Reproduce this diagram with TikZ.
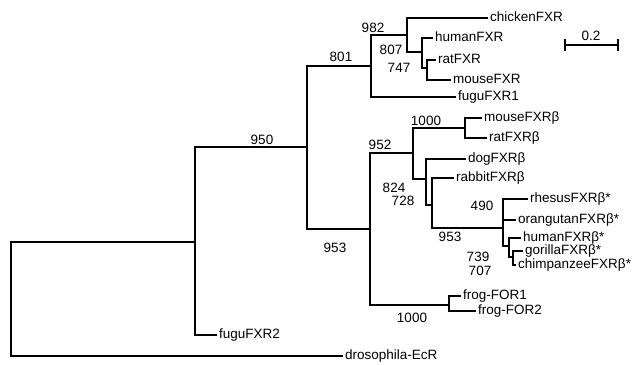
\documentclass[tikz,border=0pt]{standalone}
\usepackage{fontspec}
\setmainfont{Liberation Sans}
\begin{document}
\begin{tikzpicture}[x=1pt,y=-1pt,
  br/.style={line width=1.1pt, line cap=rect},
  lbl/.style={font=\fontsize{13.5}{16}\selectfont},
  leaf/.style={lbl, anchor=west, inner xsep=3pt, inner ysep=0pt, text height=0.72em, text depth=0pt},
  boot/.style={lbl, inner sep=0pt}]
\useasboundingbox[fill=white] (0,0) rectangle (639,364);
% internal nodes
\coordinate (R) at (11,242);
\coordinate (N1) at (195,242);
\coordinate (N2) at (307,147);
\coordinate (N3) at (371,66);
\coordinate (N4) at (407,35);
\coordinate (N5) at (422,52);
\coordinate (N5b) at (427,68);
\coordinate (N6) at (370,229);
\coordinate (N7) at (413,153);
\coordinate (N8) at (465,128);
\coordinate (NG) at (426,179);
\coordinate (NH) at (432,205);
\coordinate (NI) at (503,228);
\coordinate (NK) at (509,246);
\coordinate (NL) at (513,257);
\coordinate (NF) at (449,305);
% leaves
\node[leaf] (chicken) at (487,18) {chickenFXR};
\node[leaf] (hFXR) at (432,38) {humanFXR};
\node[leaf] (rFXR) at (435,60) {ratFXR};
\node[leaf] (mFXR) at (450,80) {mouseFXR};
\node[leaf] (fugu1) at (455,97) {fuguFXR1};
\node[leaf] (mB) at (481,118) {mouseFXRβ};
\node[leaf] (rB) at (486,138) {ratFXRβ};
\node[leaf] (dog) at (465,159) {dogFXRβ};
\node[leaf] (rab) at (453,178) {rabbitFXRβ};
\node[leaf] (rhe) at (527,199) {rhesusFXRβ*};
\node[leaf] (ora) at (515,220) {orangutanFXRβ*};
\node[leaf] (hB) at (520,238) {humanFXRβ*};
\node[leaf] (gor) at (522,251) {gorillaFXRβ*};
\node[leaf] (chi) at (515,265) {chimpanzeeFXRβ*};
\node[leaf] (f1) at (460,296) {frog-FOR1};
\node[leaf] (f2) at (475,311) {frog-FOR2};
\node[leaf] (fugu2) at (216,335) {fuguFXR2};
\node[leaf] (dro) at (342,356) {drosophila-EcR};
% branches
\draw[br] (R) |- (N1);
\draw[br] (R) |- (dro.west);
\draw[br] (N1) |- (N2);
\draw[br] (N1) |- (fugu2.west);
\draw[br] (N2) |- (N3);
\draw[br] (N2) |- (N6);
\draw[br] (N3) |- (N4);
\draw[br] (N3) |- (fugu1.west);
\draw[br] (N4) |- (chicken.west);
\draw[br] (N4) |- (N5);
\draw[br] (N5) |- (hFXR.west);
\draw[br] (N5) |- (N5b);
\draw[br] (N5b) |- (rFXR.west);
\draw[br] (N5b) |- (mFXR.west);
\draw[br] (N6) |- (N7);
\draw[br] (N6) |- (NF);
\draw[br] (N7) |- (N8);
\draw[br] (N7) |- (NG);
\draw[br] (N8) |- (mB.west);
\draw[br] (N8) |- (rB.west);
\draw[br] (NG) |- (dog.west);
\draw[br] (NG) |- (NH);
\draw[br] (NH) |- (rab.west);
\draw[br] (NH) |- (NI);
\draw[br] (NI) |- (rhe.west);
\draw[br] (NI) |- (ora.west);
\draw[br] (NI) |- (NK);
\draw[br] (NK) |- (hB.west);
\draw[br] (NK) |- (NL);
\draw[br] (NL) |- (gor.west);
\draw[br] (NL) |- (chi.west);
\draw[br] (NF) |- (f1.west);
\draw[br] (NF) |- (f2.west);
% bootstrap values
\node[boot] (b982) at (373,28) {982};
\node[boot] (b801) at (341,57) {801};
\node[boot] (b807) at (391,50) {807};
\node[boot] (b747) at (399,68) {747};
\node[boot] (b950) at (262,140) {950};
\node[boot] (b952) at (380,145) {952};
\node[boot] (b1000a) at (426,121) {1000};
\node[boot] (b824) at (394,188) {824};
\node[boot] (b728) at (403,201) {728};
\node[boot] (b490) at (482,206) {490};
\node[boot] (b953a) at (335,248) {953};
\node[boot] (b953b) at (450,237) {953};
\node[boot] (b739) at (478,257) {739};
\node[boot] (b707) at (480,271) {707};
\node[boot] (b1000b) at (412,318) {1000};
% scale bar
\coordinate (sbL) at (565,45);
\coordinate (sbR) at (618,45);
\draw[br] (sbL) -- (sbR);
\draw[br] ([yshift=-5pt]sbL) -- ([yshift=5pt]sbL);
\draw[br] ([yshift=-5pt]sbR) -- ([yshift=5pt]sbR);
\node[boot] (sbt) at (591,36) {0.2};
\end{tikzpicture}
\end{document}
